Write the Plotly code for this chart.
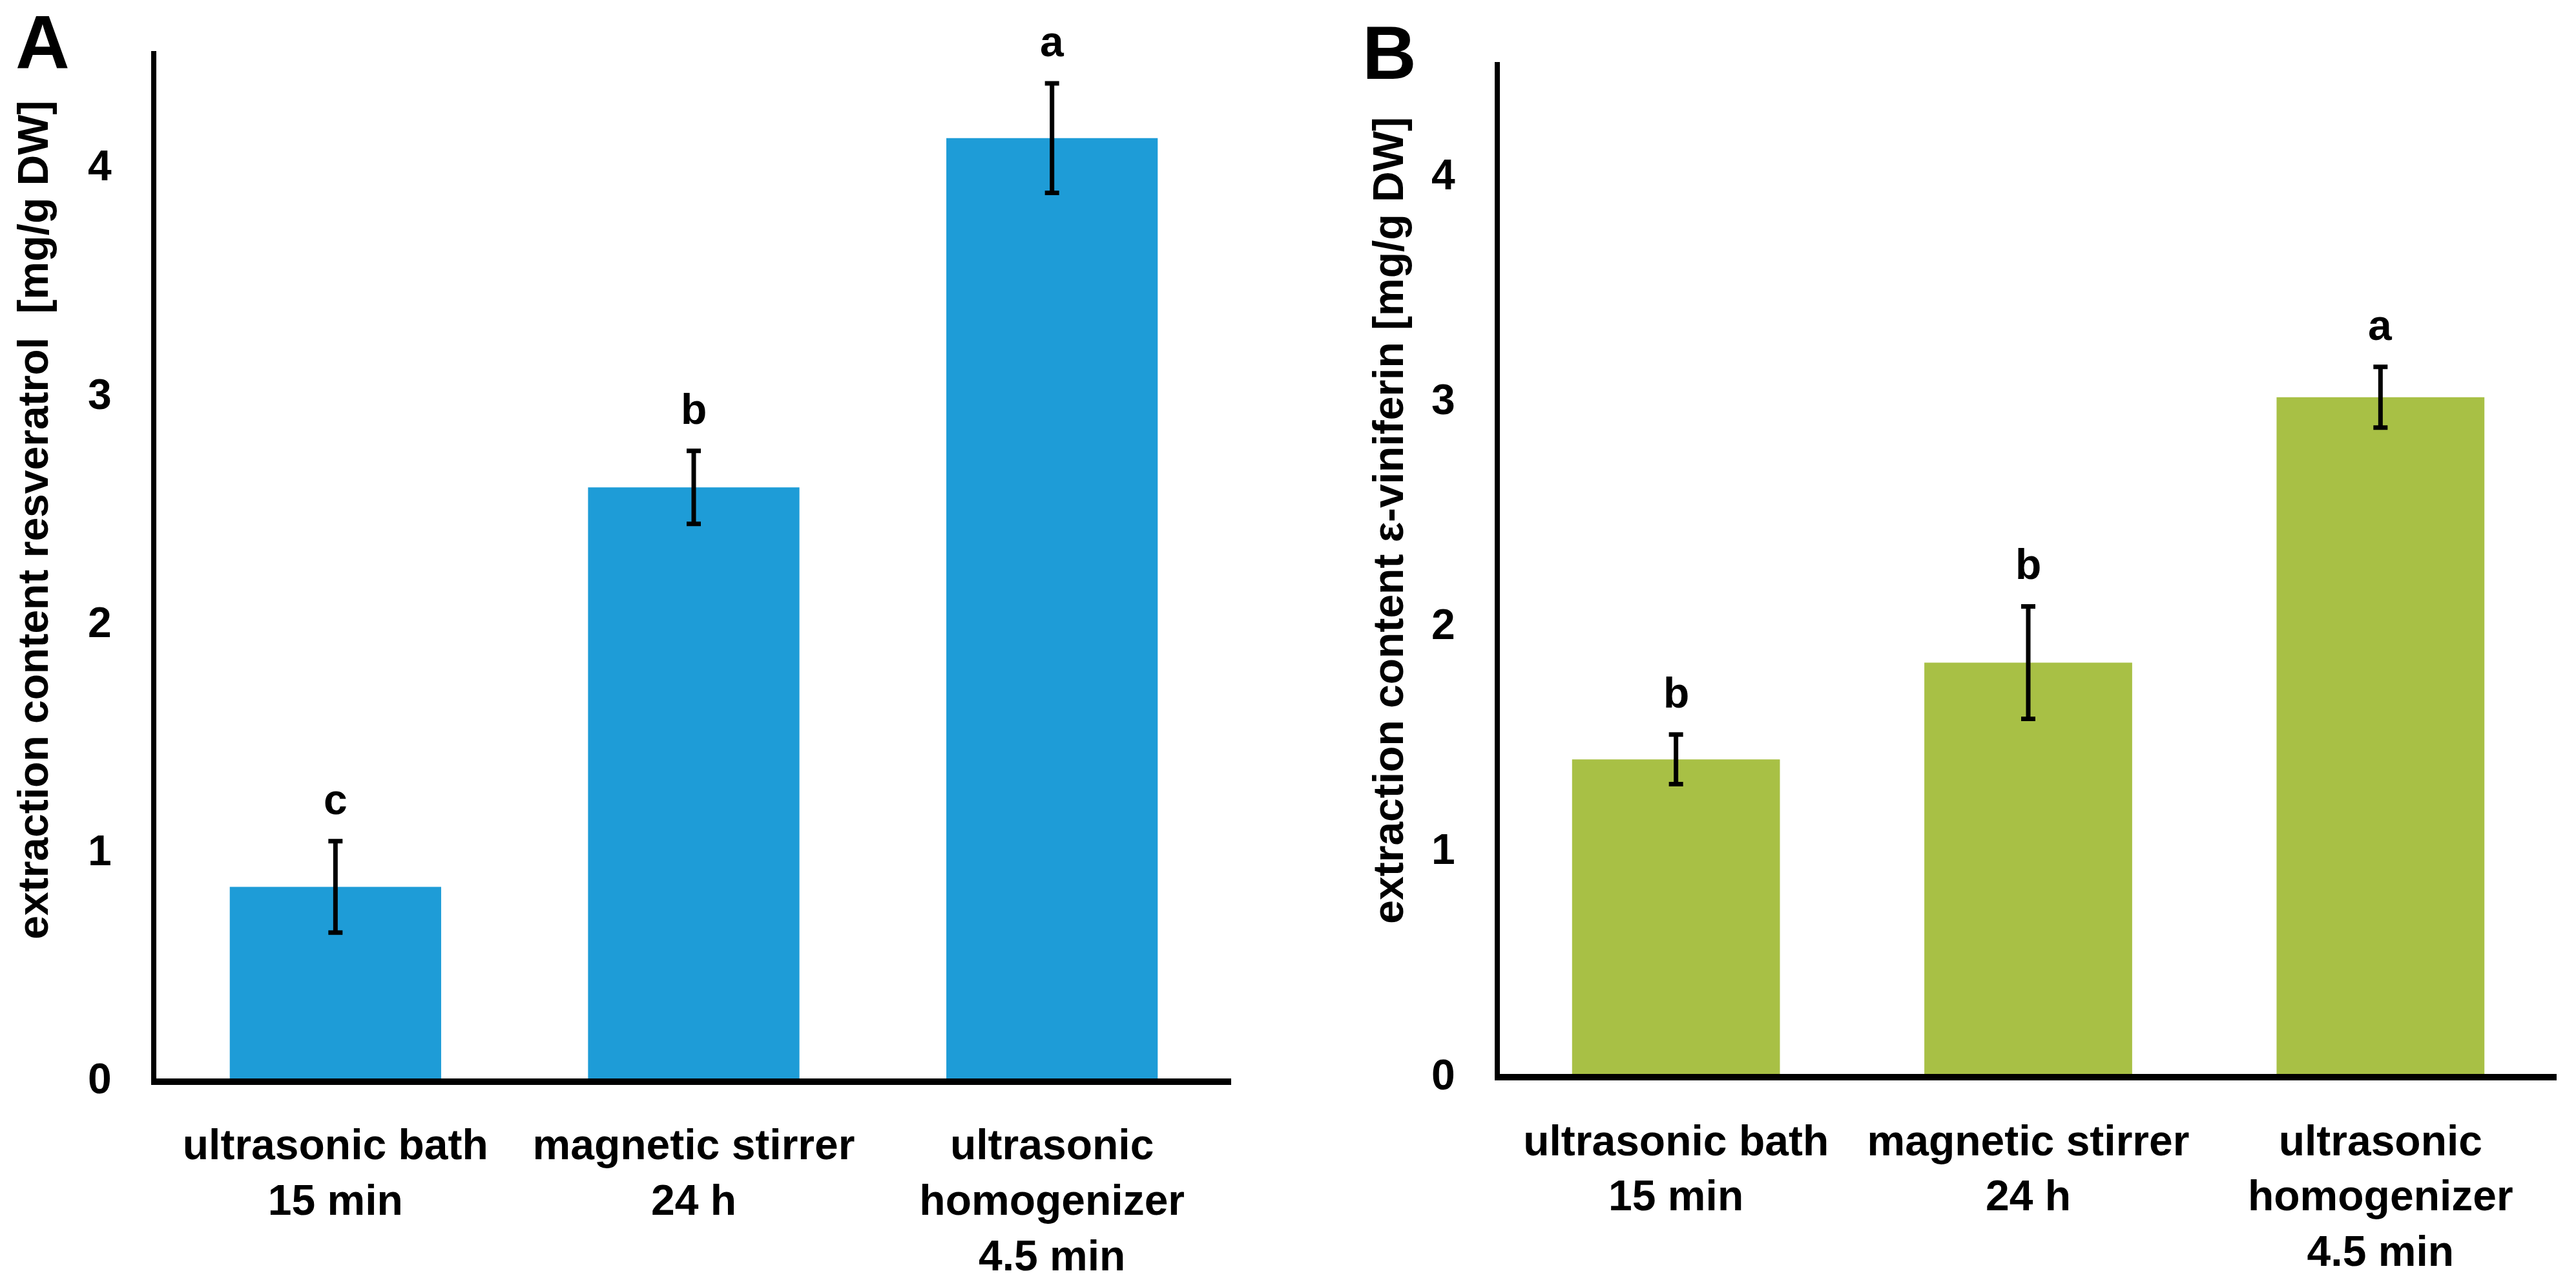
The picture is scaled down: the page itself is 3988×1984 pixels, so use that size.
import plotly.graph_objects as go

# ---- data ----
categories = ["ultrasonic bath<br>15 min", "magnetic stirrer<br>24 h", "ultrasonic<br>homogenizer<br>4.5 min"]
resveratrol = [0.84, 2.59, 4.12]
resveratrol_err = [0.20, 0.16, 0.24]
resveratrol_letters = ["c", "b", "a"]
viniferin = [1.40, 1.83, 3.01]
viniferin_err = [0.11, 0.25, 0.135]
viniferin_letters = ["b", "b", "a"]
y_ticks = [0, 1, 2, 3, 4]
title_a = "extraction content resveratrol\u00a0 [mg/g DW]"
title_b = "extraction content \u03b5-viniferin [mg/g DW]"

W, H = 3988, 1984
FONT = "Liberation Sans, Arial, sans-serif"
FS = 66
BLUE = "#1E9CD7"
GREEN = "#A8C045"

fig = go.Figure()
fig.add_trace(go.Bar(x=categories, y=resveratrol, marker=dict(color=BLUE, line=dict(width=0)),
                     error_y=dict(type="data", array=resveratrol_err, color="black", thickness=7, width=11),
                     xaxis="x", yaxis="y", showlegend=False))
fig.add_trace(go.Bar(x=categories, y=viniferin, marker=dict(color=GREEN, line=dict(width=0)),
                     error_y=dict(type="data", array=viniferin_err, color="black", thickness=7, width=11),
                     xaxis="x2", yaxis="y2", showlegend=False))

tickfont = dict(family=FONT, size=FS, color="black", weight="bold")

xcommon = dict(showline=True, linecolor="black", linewidth=10, ticks="", showgrid=False,
               zeroline=False, tickfont=tickfont, type="category", range=[-0.5, 2.5],
               ticklabelstandoff=36, fixedrange=True)
ycommon = dict(showline=True, linecolor="black", linewidth=8, ticks="", showgrid=False,
               zeroline=False, tickfont=tickfont, range=[0, 4.5], tickvals=y_ticks,
               ticklabelstandoff=48, fixedrange=True)

fig.update_layout(
    width=W, height=H, autosize=False,
    margin=dict(l=0, r=0, t=0, b=0),
    paper_bgcolor="white", plot_bgcolor="white",
    bargap=0.41,
    xaxis=dict(domain=[242 / W, 1906 / W], anchor="y", **xcommon),
    yaxis=dict(domain=[1 - 1701 / H, 1 - 81 / H], anchor="x", **ycommon),
    xaxis2=dict(domain=[2322 / W, 3958 / W], anchor="y2", **xcommon),
    yaxis2=dict(domain=[1 - 1694 / H, 1 - 98 / H], anchor="x2", **ycommon),
)

annotations = []
for cat, v, e, t in zip(categories, resveratrol, resveratrol_err, resveratrol_letters):
    annotations.append(dict(x=cat, y=v + e, xref="x", yref="y", text=t, showarrow=False,
                            yanchor="bottom", yshift=26, font=tickfont))
for cat, v, e, t in zip(categories, viniferin, viniferin_err, viniferin_letters):
    annotations.append(dict(x=cat, y=v + e, xref="x2", yref="y2", text=t, showarrow=False,
                            yanchor="bottom", yshift=26, font=tickfont))
# axis titles
annotations.append(dict(x=51 / W, y=1 - 820 / H, xref="paper", yref="paper", text=title_a,
                        textangle=-90, showarrow=False, xanchor="center", yanchor="middle",
                        font=tickfont))
annotations.append(dict(x=2149 / W, y=1 - 821 / H, xref="paper", yref="paper", text=title_b,
                        textangle=-90, showarrow=False, xanchor="center", yanchor="middle",
                        font=tickfont))
# panel labels
annotations.append(dict(x=66 / W, y=1 - 67 / H, xref="paper", yref="paper", text="A",
                        showarrow=False, xanchor="center", yanchor="middle",
                        font=dict(family=FONT, size=116, color="black", weight="bold")))
annotations.append(dict(x=2151 / W, y=1 - 84 / H, xref="paper", yref="paper", text="B",
                        showarrow=False, xanchor="center", yanchor="middle",
                        font=dict(family=FONT, size=116, color="black", weight="bold")))
fig.update_layout(annotations=annotations)

fig.write_html("out.html", config={"displayModeBar": False},
               post_script="document.body.style.margin='0';document.body.style.overflow='hidden';")
